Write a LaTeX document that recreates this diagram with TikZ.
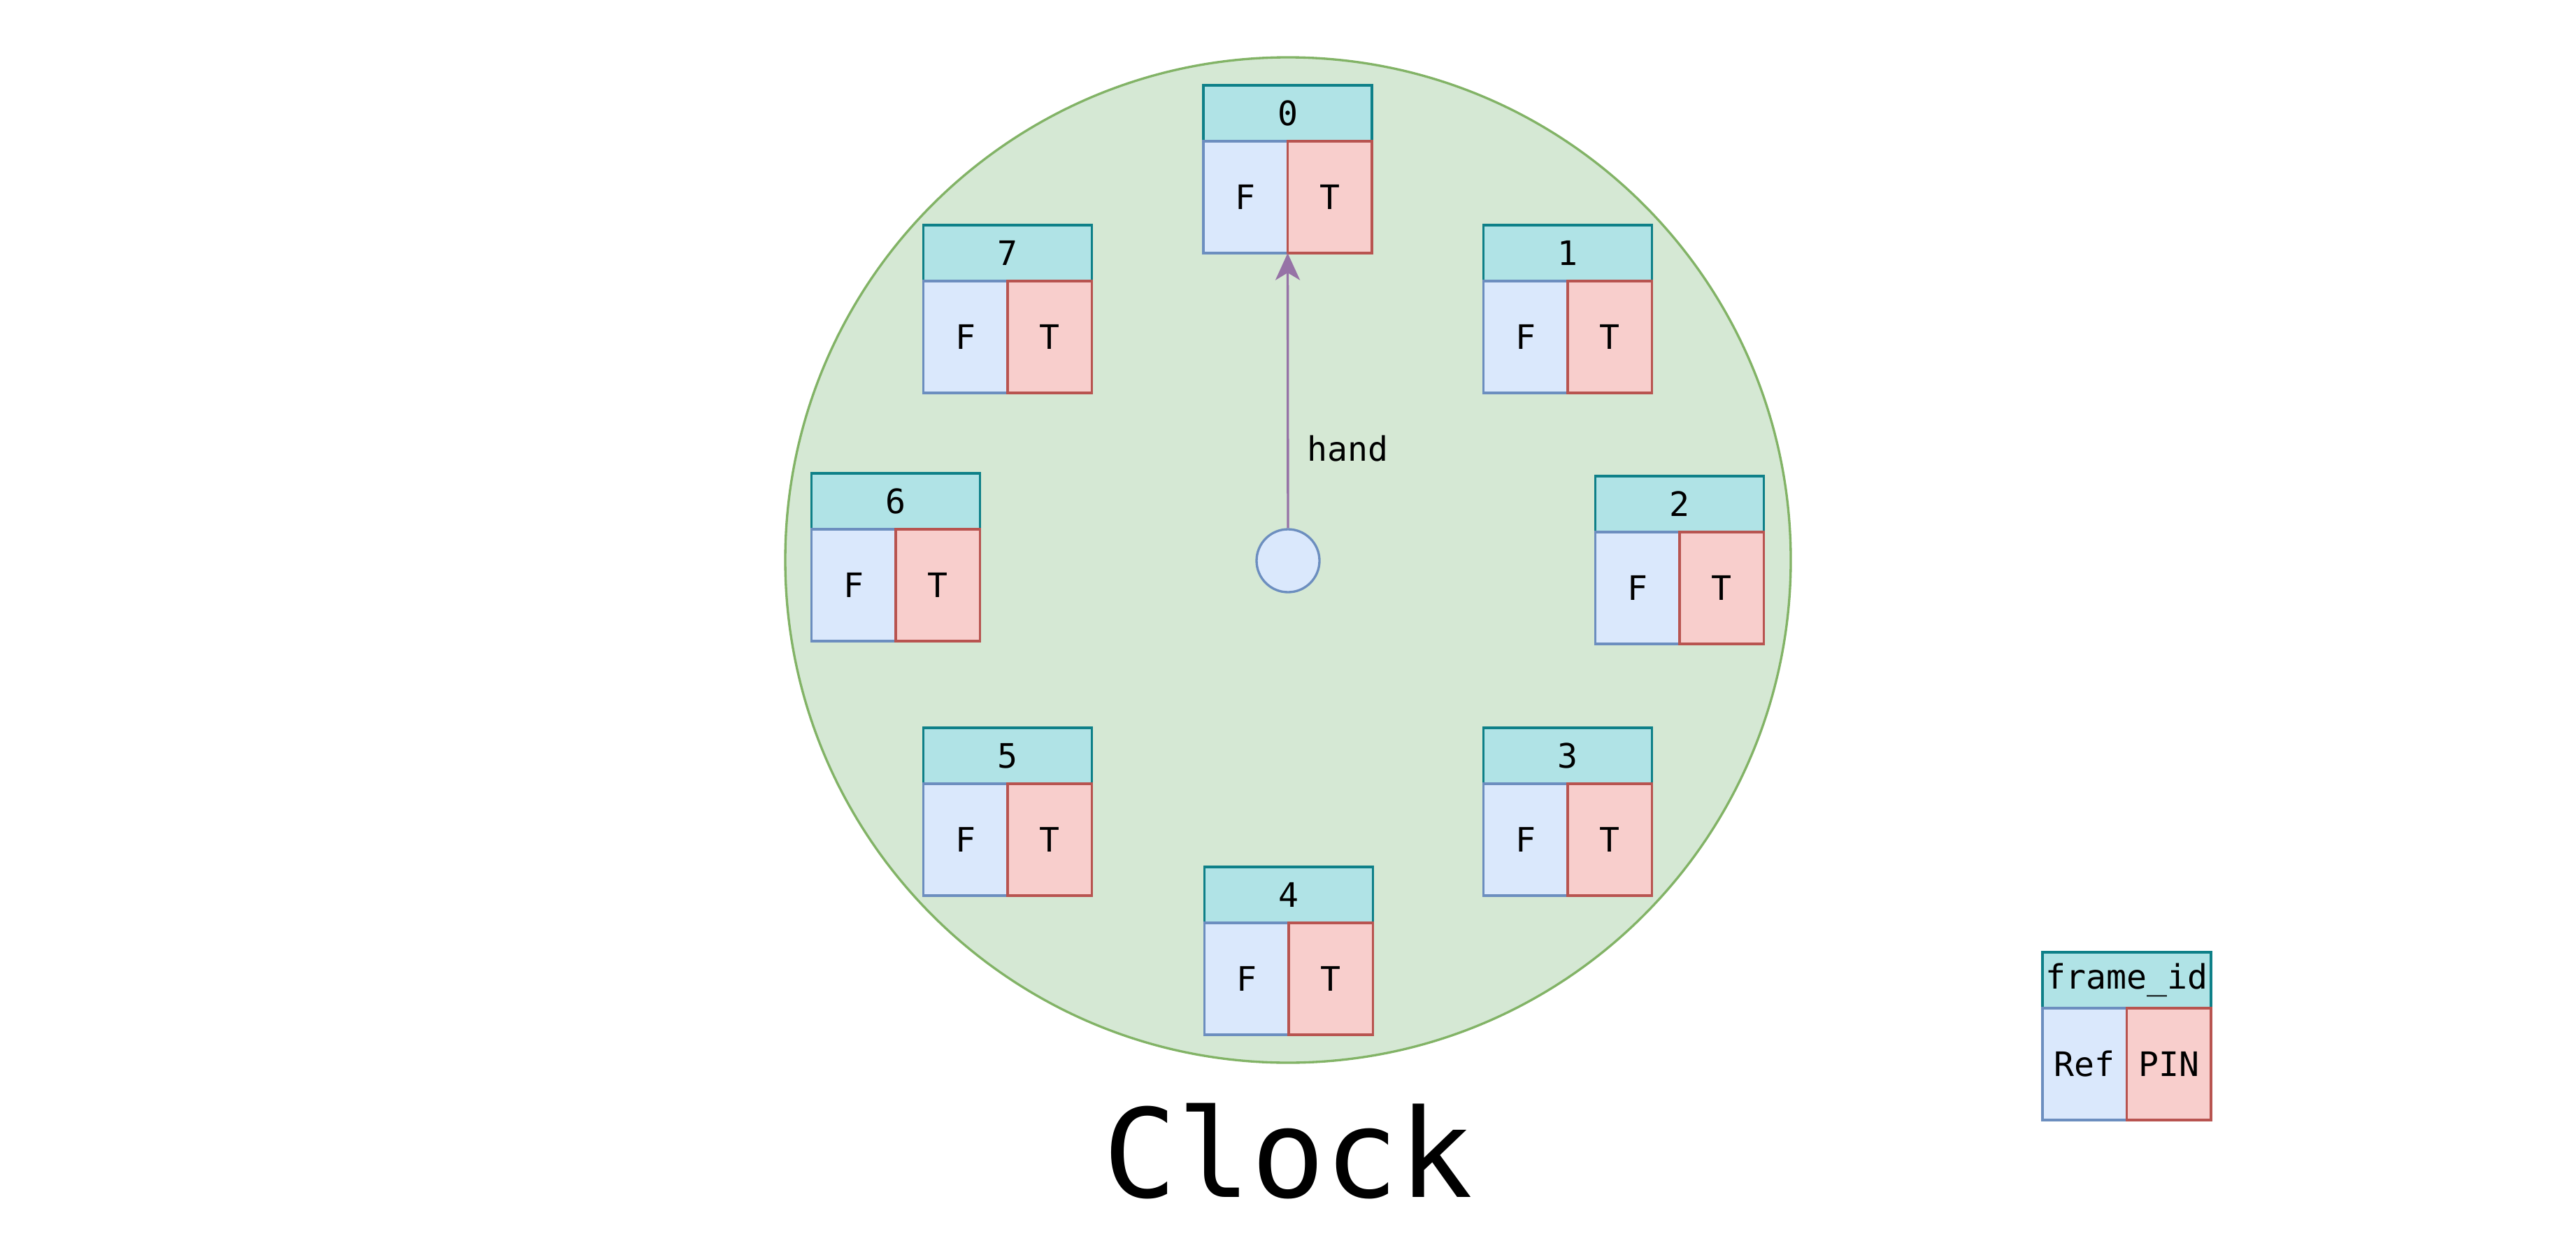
\documentclass[tikz,border=0pt]{standalone}
\usepackage{fontspec}
\setmainfont{DejaVu Sans Mono}
\usepackage{tikz}
\usetikzlibrary{positioning, arrows.meta}
\usepackage{xcolor}

\definecolor{headfill}{HTML}{B0E3E6}
\definecolor{headline}{HTML}{0E8088}
\definecolor{reffill}{HTML}{DAE8FC}
\definecolor{refline}{HTML}{6C8EBF}
\definecolor{pinfill}{HTML}{F8CECC}
\definecolor{pinline}{HTML}{B85450}
\definecolor{dialfill}{HTML}{D5E8D4}
\definecolor{dialline}{HTML}{82B366}
\definecolor{handline}{HTML}{9673A6}

\begin{document}
\begin{tikzpicture}[
    line width=0.95pt,
    font=\fontsize{13.7}{16}\selectfont,
    head/.style={rectangle, draw=headline, fill=headfill, minimum width=2.41cm, minimum height=0.80cm, inner sep=0pt, outer sep=0pt},
    fcell/.style={rectangle, draw=refline, fill=reffill, minimum width=1.205cm, minimum height=1.60cm, inner sep=0pt, outer sep=0pt},
    tcell/.style={rectangle, draw=pinline, fill=pinfill, minimum width=1.205cm, minimum height=1.60cm, inner sep=0pt, outer sep=0pt}
]
    \useasboundingbox (0,0) rectangle (36.84,-17.64);

    % Ziffernblatt
    \node[circle, draw=dialline, fill=dialfill, minimum size=14.38cm, inner sep=0pt] (dial) at (18.42,-8.01) {};
    \node[circle, draw=refline, fill=reffill, minimum size=0.90cm, inner sep=0pt] (hub) at (18.42,-8.02) {};

    % Frames
    \node[head] (h0) at (18.415,-1.62) {0};
    \node[fcell, below right=0pt of h0.south west] (f0) {F};
    \node[tcell, right=0pt of f0] (t0) {T};

    \node[head] (h1) at (22.42,-3.62) {1};
    \node[fcell, below right=0pt of h1.south west] (f1) {F};
    \node[tcell, right=0pt of f1] (t1) {T};

    \node[head] (h2) at (24.02,-7.21) {2};
    \node[fcell, below right=0pt of h2.south west] (f2) {F};
    \node[tcell, right=0pt of f2] (t2) {T};

    \node[head] (h3) at (22.42,-10.81) {3};
    \node[fcell, below right=0pt of h3.south west] (f3) {F};
    \node[tcell, right=0pt of f3] (t3) {T};

    \node[head] (h4) at (18.43,-12.80) {4};
    \node[fcell, below right=0pt of h4.south west] (f4) {F};
    \node[tcell, right=0pt of f4] (t4) {T};

    \node[head] (h5) at (14.41,-10.81) {5};
    \node[fcell, below right=0pt of h5.south west] (f5) {F};
    \node[tcell, right=0pt of f5] (t5) {T};

    \node[head] (h6) at (12.81,-7.17) {6};
    \node[fcell, below right=0pt of h6.south west] (f6) {F};
    \node[tcell, right=0pt of f6] (t6) {T};

    \node[head] (h7) at (14.41,-3.62) {7};
    \node[fcell, below right=0pt of h7.south west] (f7) {F};
    \node[tcell, right=0pt of f7] (t7) {T};

    % Zeiger
    \draw[handline, -{Stealth[length=11pt, width=10pt, inset=3pt]}] (hub) -- (f0.south east)
        node[pos=0.29, right, inner sep=0pt, xshift=0.26cm, text=black] (handlabel) {hand};

    % Legende
    \node[head] (hl) at (30.415,-14.02) {frame\_id};
    \node[fcell, below right=0pt of hl.south west] (fl) {Ref};
    \node[tcell, right=0pt of fl] (tl) {PIN};

    % Titel
    \node[anchor=base, font=\fontsize{50}{54}\selectfont] (title) at (18.42,-17.12) {Clock};
\end{tikzpicture}
\end{document}
